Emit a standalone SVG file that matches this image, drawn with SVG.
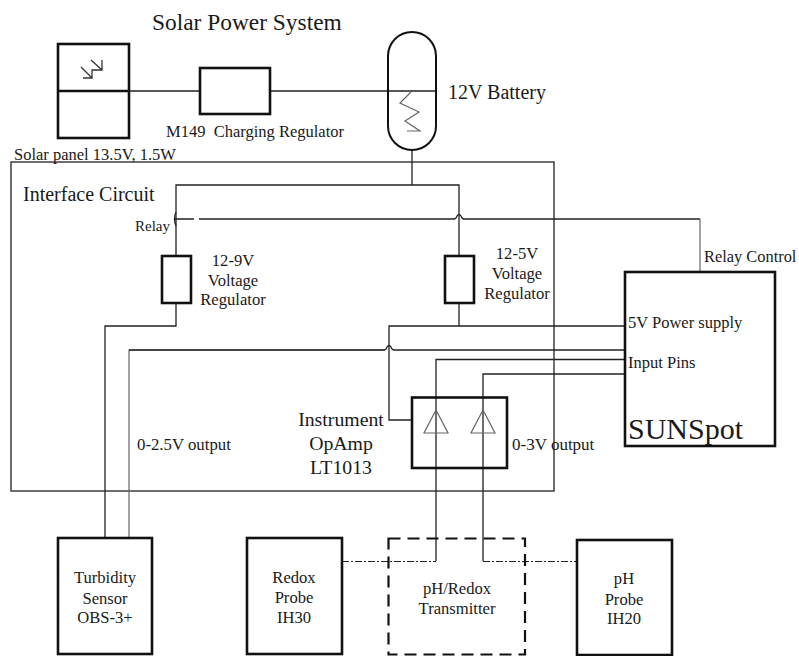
<svg xmlns="http://www.w3.org/2000/svg" width="799" height="656" viewBox="0 0 799 656">
<style>
text{font-family:"Liberation Serif","Times New Roman",serif;fill:#1a1a1a}
.m{text-anchor:middle}
.box{fill:none;stroke:#111;stroke-width:2.6}
.w{fill:none;stroke:#222;stroke-width:1.3}
.g{fill:none;stroke:#666;stroke-width:1.2}
.dd{fill:none;stroke:#222;stroke-width:1.2;stroke-dasharray:7 2 2 2}
.f{font-size:16.6px}
</style>
<rect width="799" height="656" fill="#fff"/>
<text x="152" y="30" font-size="23.400">Solar Power System</text>
<g id="interface-circuit"><rect x="11" y="162" width="543" height="329" class="w"/>
<text x="23" y="201" font-size="20">Interface Circuit</text></g>
<g id="connectors">
<path class="w" d="M129 91H200M270 91H435"/>
<path class="w" d="M412 150V185M176 256V185H459V256"/>
<path class="w" d="M176 212Q173 219 176 226"/>
<path class="w" d="M175 219H194M199 219H454Q456 219 457 216Q459 213 461 216Q462 219 464 219H700"/>
<path class="g" d="M700 219V272"/>
<path class="w" d="M176 303V326H105V538" stroke-width="1.5"/>
<path class="w" d="M459 303V326M625 326H389V420H412"/>
<path class="g" d="M129 538V350H384"/>
<path class="w" d="M129 350H384Q386 350 387 347Q389 344 391 347Q392 350 394 350H625"/>
<path class="w" d="M625 359.500H436V561M625 374H483V561"/>
<path class="dd" d="M342 561.500H436M483 561.500H577"/>
</g>
<g id="solar-panel"><rect x="58" y="44" width="71" height="94" class="box"/><path d="M58 91H129" class="box"/>
<path fill="none" stroke="#333" stroke-width="1.300" d="M102 60V70H92V78H83M91 60L102 70M81 67L92 78"/>
<text x="14" y="160" font-size="16.500">Solar panel 13.5V, 1.5W</text></g>
<g id="charging-regulator"><rect x="200" y="68" width="70" height="46" class="box"/>
<text x="166" y="137" font-size="16.500">M149&#160; Charging Regulator</text></g>
<g id="battery"><rect x="388" y="32" width="48" height="118" rx="24" ry="24" fill="none" stroke="#111" stroke-width="2"/>
<path class="g" d="M411 92L400 103L419 112L405 121L420 131H407" stroke-width="1.500"/>
<text x="448" y="99" font-size="20">12V Battery</text></g>
<g id="regulator-9v"><rect x="162" y="256" width="29" height="47" class="box"/>
<text class="m f" x="233" y="266">12-9V</text><text class="m f" x="233" y="286">Voltage</text><text class="m f" x="233" y="305">Regulator</text></g>
<g id="regulator-5v"><rect x="445" y="256" width="29" height="47" class="box"/>
<text class="m f" x="517" y="259">12-5V</text><text class="m f" x="517" y="279">Voltage</text><text class="m f" x="517" y="299">Regulator</text></g>
<text x="135" y="231" font-size="15">Relay</text>
<text x="704" y="262" font-size="16.400">Relay Control</text>
<g id="sunspot"><rect x="625" y="272" width="150" height="174" class="box"/>
<text x="628" y="328" font-size="16.500">5V Power supply</text>
<text x="628" y="368" font-size="16.500">Input Pins</text>
<text x="628" y="439" font-size="30">SUNSpot</text></g>
<g id="opamp"><rect x="412" y="397.500" width="95" height="70.500" class="box"/>
<path class="g" d="M436 410L424 433H448ZM483 410L471 433H495Z" stroke="#444"/>
<text class="m" x="341" y="426" font-size="19.800">Instrument</text><text class="m" x="341" y="450" font-size="19.800">OpAmp</text><text class="m" x="341" y="474" font-size="19.800">LT1013</text>
<text x="512" y="450" font-size="17">0-3V output</text></g>
<text x="137" y="450" font-size="16.800">0-2.5V output</text>
<g id="turbidity"><rect x="58" y="538" width="94" height="116" class="box"/>
<text class="m f" x="105" y="583">Turbidity</text><text class="m f" x="105" y="604">Sensor</text><text class="m f" x="105" y="623">OBS-3+</text></g>
<g id="redox"><rect x="247" y="538" width="95" height="116" class="box"/>
<text class="m f" x="294" y="583">Redox</text><text class="m f" x="294" y="603">Probe</text><text class="m f" x="294" y="623">IH30</text></g>
<g id="transmitter"><rect x="388.500" y="538.500" width="136.500" height="116" fill="none" stroke="#111" stroke-width="2.200" stroke-dasharray="12 7"/>
<text class="m f" x="457" y="594">pH/Redox</text><text class="m f" x="457" y="614">Transmitter</text></g>
<g id="ph"><rect x="577" y="540" width="95" height="115" class="box"/>
<text class="m f" x="624" y="584">pH</text><text class="m f" x="624" y="605">Probe</text><text class="m f" x="624" y="624">IH20</text></g>
</svg>
